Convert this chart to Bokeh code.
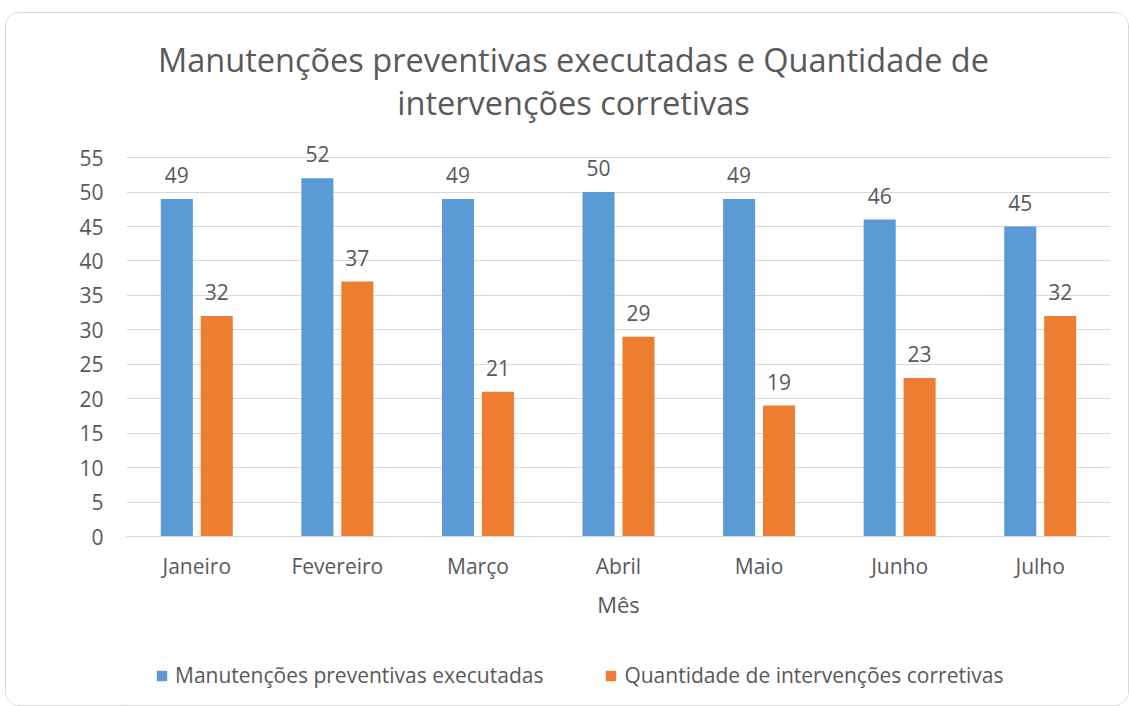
from bokeh.plotting import figure
from bokeh.layouts import column
from bokeh.models import (FactorRange, Range1d, Label, Legend, LegendItem, ColumnDataSource,
                          FixedTicker)
from bokeh.transform import dodge
from bokeh.core.properties import value
from bokeh.embed import file_html
from bokeh.resources import INLINE

months = ["Janeiro", "Fevereiro", "Março", "Abril", "Maio", "Junho", "Julho"]
preventivas = [49, 52, 49, 50, 49, 46, 45]
corretivas = [32, 37, 21, 29, 19, 23, 32]
y_ticks = [0, 5, 10, 15, 20, 25, 30, 35, 40, 45, 50, 55]
title_lines = ["Manutenções preventivas executadas e Quantidade de", "intervenções corretivas"]
series_names = ["Manutenções preventivas executadas", "Quantidade de intervenções corretivas"]
x_label = "Mês"

FONT = "Open Sans"
TXT = "#595959"
BLUE = "#5B9BD5"
ORANGE = "#ED7D31"
GRID = "#D9D9D9"
W = 1122
BL, BR = 120, 18          # left/right borders shared by all stacked figures
FW = W - BL - BR          # frame width


def bare(h):
    f = figure(width=W, height=h, x_range=Range1d(0, FW), y_range=Range1d(0, h),
               output_backend="svg", toolbar_location=None,
               min_border_left=BL, min_border_right=BR,
               min_border_top=0, min_border_bottom=0)
    f.axis.visible = False
    f.grid.visible = False
    f.outline_line_color = None
    f.background_fill_color = "white"
    f.border_fill_color = "white"
    return f


# ---- header with two-line title
head = bare(116)
for txt, yv in zip(title_lines, (70, 27)):
    head.add_layout(Label(x=447, y=yv, text=txt, text_align="center", text_baseline="middle",
                          text_font=FONT, text_font_size="32.5px", text_color=TXT))

# ---- main chart
src = ColumnDataSource(dict(
    m=months, p=preventivas, c=corretivas,
    pl=[str(v) for v in preventivas], cl=[str(v) for v in corretivas],
))

p = figure(width=W, height=502, x_range=FactorRange(*months, range_padding=0),
           y_range=Range1d(0, 58.5), output_backend="svg", toolbar_location=None,
           min_border_left=BL, min_border_right=BR, min_border_top=4, min_border_bottom=95)
p.outline_line_color = None
p.background_fill_color = "white"
p.border_fill_color = "white"

w = 0.228
off = 0.142
p.vbar(x=dodge("m", -off, range=p.x_range), top="p", width=w, source=src,
       fill_color=BLUE, line_color=None)
p.vbar(x=dodge("m", off, range=p.x_range), top="c", width=w, source=src,
       fill_color=ORANGE, line_color=None)

for col, lab, o in (("p", "pl", -off), ("c", "cl", off)):
    p.text(x=dodge("m", o, range=p.x_range), y=col, text=lab, source=src,
           text_align="center", text_baseline="middle", y_offset=-24,
           text_font=value(FONT), text_font_size="21px", text_color=TXT)

p.xgrid.grid_line_color = None
p.ygrid.grid_line_color = GRID
p.ygrid.grid_line_width = 1
p.yaxis.ticker = FixedTicker(ticks=y_ticks)
p.yaxis.axis_line_color = None
p.yaxis.major_tick_line_color = None
p.yaxis.minor_tick_line_color = None
p.yaxis.major_label_standoff = 17
p.yaxis.major_label_text_font = FONT
p.yaxis.major_label_text_font_size = "21px"
p.yaxis.major_label_text_color = TXT

p.xaxis.axis_line_color = GRID
p.xaxis.major_tick_line_color = None
p.xaxis.minor_tick_line_color = None
p.xaxis.major_label_standoff = 9
p.xaxis.major_label_text_font = FONT
p.xaxis.major_label_text_font_size = "21px"
p.xaxis.major_label_text_color = TXT
p.xaxis.axis_label = x_label
p.xaxis.axis_label_text_font = FONT
p.xaxis.axis_label_text_font_size = "22px"
p.xaxis.axis_label_text_font_style = "normal"
p.xaxis.axis_label_text_color = TXT
p.xaxis.axis_label_standoff = 6

# ---- footer with legend (swatch renderers sit outside the visible range)
foot = bare(74)
sw = dict(x=[-1000], top=[1])
d1 = foot.vbar(source=ColumnDataSource(sw), x="x", top="top", width=1,
               fill_color=BLUE, line_color=None)
d2 = foot.vbar(source=ColumnDataSource(sw), x="x", top="top", width=1,
               fill_color=ORANGE, line_color=None)
legend = Legend(items=[LegendItem(label=series_names[0], renderers=[d1]),
                       LegendItem(label=series_names[1], renderers=[d2])],
                orientation="horizontal", location=(29, 16),
                glyph_width=13, glyph_height=13, label_standoff=7, spacing=61,
                padding=0, margin=0, border_line_color=None, background_fill_alpha=0,
                label_text_font=FONT, label_text_font_size="21px", label_text_color=TXT)
foot.add_layout(legend, "center")

layout = column(head, p, foot, spacing=0)
layout.styles = {"margin-left": "5px", "margin-top": "12px",
                 "border": "1px solid #D9D9D9", "border-radius": "14px",
                 "overflow": "hidden", "background": "white"}

open("out.html", "w").write(file_html(layout, INLINE))
